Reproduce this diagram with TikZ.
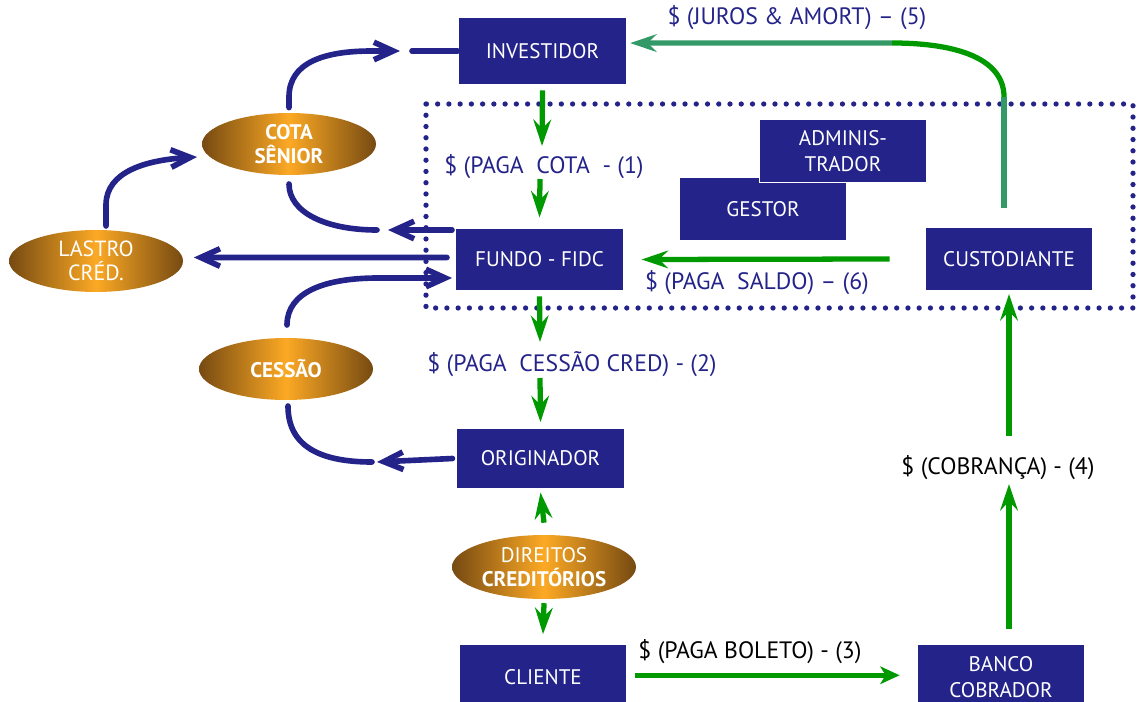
\documentclass[tikz,border=0pt]{standalone}
\usepackage{fontspec}
\setmainfont{PT Sans}
\usetikzlibrary{arrows.meta,shapes.geometric}

\definecolor{navy}{HTML}{232389}
\definecolor{fgreen}{HTML}{009900}
\definecolor{sgreen}{HTML}{339966}
\definecolor{goldedge}{HTML}{764A12}
\definecolor{goldmid}{HTML}{FCA924}

\tikzset{
  box/.style={fill=navy, draw=white, line width=0.6pt, text=white,
    font=\fontsize{12}{14.5}\selectfont, align=center,
    minimum width=3.36cm, minimum height=1.26cm, inner sep=0pt},
  oval/.style={ellipse, left color=goldedge, right color=goldedge, middle color=goldmid,
    text=white, font=\fontsize{12.5}{14}\selectfont, align=center,
    minimum width=3.48cm, minimum height=1.24cm, inner sep=0pt},
  ovalbold/.style={font=\bfseries\fontsize{12}{14}\selectfont},
  lbl/.style={font=\fontsize{13.5}{15}\selectfont, text=navy, inner sep=1pt},
  bline/.style={draw=navy, line width=3.2pt, line cap=round},
  barb/.style={bline, -{Straight Barb[length=11pt,width=10pt]}},
  garr/.style={draw=fgreen, line width=3pt, -{Stealth[length=15pt,width=10pt,inset=5pt]}},
  sarr/.style={draw=sgreen, line width=3pt, -{Stealth[length=15pt,width=10pt,inset=5pt]}},
  dotframe/.style={draw=navy, line width=3pt, line cap=round, dash pattern=on 0pt off 6.4pt},
}

\begin{document}
\begin{tikzpicture}[x=0.02cm, y=-0.02cm]
\path[use as bounding box] (0,0) rectangle (1138,702);
\clip (0,0) rectangle (1138,702);

% boxes
\node[box, minimum width=3.38cm, minimum height=1.36cm] (inv) at (542.5,51) {INVESTIDOR};
\node[box] (fundo) at (539.5,259.5) {FUNDO - FIDC};
\node[box] (gestor) at (763,209) {GESTOR};
\node[box] (admin) at (843,151) {ADMINIS-\\TRADOR};
\node[box] (cust) at (1009,259) {CUSTODIANTE};
\node[box, minimum height=1.22cm] (orig) at (540.5,458.5) {ORIGINADOR};
\node[box, minimum height=1.3cm] (cliente) at (543,677) {CLIENTE};
\node[box, minimum height=1.3cm] (banco) at (1001,677) {BANCO\\COBRADOR};

% golden ovals
\node[oval, ovalbold] (cota) at (289,144) {COTA\\SÊNIOR};
\node[oval] (lastro) at (96,261) {LASTRO\\CRÉD.};
\node[oval, ovalbold] (cessao) at (286,369) {CESSÃO};
\node[oval, minimum width=3.68cm, minimum height=1.28cm, font=\fontsize{12}{14}\selectfont] (dir) at (544,567) {DIREITOS\\\textbf{CREDITÓRIOS}};

% labels
\node[lbl] (l1) at (544,167) {\$ (PAGA\ \ COTA\ \ - (1)};
\node[lbl] (l2) at (572,364) {\$ (PAGA\ \ CESSÃO CRED) - (2)};
\node[lbl, text=black] (l3) at (750,652) {\$ (PAGA BOLETO) - (3)};
\node[lbl, text=black] (l4) at (998,468) {\$ (COBRANÇA) - (4)};
\node[lbl] (l5) at (797,18) {\$ (JUROS \& AMORT) – (5)};
\node[lbl] (l6) at (757,283) {\$ (PAGA\ \ SALDO) – (6)};

% way points of the navy connectors
\coordinate (cTip) at (400,51);
\coordinate (cBend) at (372,51);
\coordinate (cUp) at (289,97);
\coordinate (invDash) at (412,51);
\coordinate (fTip) at (388,230);
\coordinate (fStart) at (452,230);
\coordinate (fEnd) at (377,230);
\coordinate (cDown) at (289,184);
\coordinate (lUp) at (106,226);
\coordinate (lBend) at (106,205);
\coordinate (lTip) at (197,157);
\coordinate (sUp) at (287,325);
\coordinate (sBend) at (378,278);
\coordinate (sTip) at (452,278);
\coordinate (oTip) at (377,462);
\coordinate (oEnd) at (372,462);
\coordinate (sDown) at (288,406);

% navy connectors
\draw[barb] (cota.north) ++(0,-5) -- (cUp) .. controls (289,62) and (325,51) .. (cBend) -- (cTip);
\draw[bline] (invDash) -- (inv.west);
\draw[barb] (fStart) -- (fTip);
\draw[bline] (fEnd) .. controls (325,230) and (289,212) .. (cDown);
\draw[barb] (fundo.west) ++(-8,-2) -- ([xshift=6pt,yshift=2pt]lastro.east);
\draw[barb] (lUp) -- (lBend) .. controls (106,172) and (145,160) .. (lTip);
\draw[barb] (sUp) .. controls (287,292) and (325,278) .. (sBend) -- (sTip);
\draw[barb] ([xshift=-2pt]orig.west) -- (oTip);
\draw[bline] (oEnd) .. controls (318,462) and (288,445) .. (sDown);

% frame around the fund's service providers
\draw[dotframe] (426,104) rectangle (1133,308);

% green way points
\coordinate (g1a) at (542,146);
\coordinate (g1b) at (540,179);
\coordinate (g2a) at (540,342);
\coordinate (g2b) at (540,378);
\coordinate (g5a) at (1009,484);
\coordinate (g5b) at (1009,436);
\coordinate (g6a) at (1004,208);
\coordinate (g6b) at (1004,97);
\coordinate (g6c) at (892,43);

% green connectors
\draw[garr] ([yshift=-2.8pt]inv.south) -- (g1a);
\draw[garr] (g1b) -- ([yshift=5.7pt]fundo.north);
\draw[garr] ([yshift=-2.8pt]fundo.south) -- (g2a);
\draw[garr] (g2b) -- ([yshift=3pt]orig.north);
\draw[garr] ([yshift=6.8pt]dir.north) -- ([yshift=-1.7pt]orig.south);
\draw[garr] ([yshift=-2.2pt]dir.south) -- ([yshift=5.6pt]cliente.north);
\draw[garr, -{Stealth[length=11pt,width=10pt,inset=3pt]}] ([xshift=4.5pt,yshift=1pt]cliente.east) -- ([xshift=-9.6pt,yshift=1pt]banco.west);
\draw[garr] ([yshift=8.5pt]banco.north -| cust.south) -- (g5a);
\draw[garr] (g5b) -- ([yshift=-1.7pt]cust.south);
\draw[draw=sgreen, line width=3pt] (g6a) -- (g6b);
\draw[draw=fgreen, line width=3pt] (g6b) .. controls (1004,60) and (960,43) .. (g6c);
\draw[sarr] (g6c) -- ([xshift=1.5pt,yshift=4.5pt]inv.east);
\draw[garr] ([xshift=-19.8pt]cust.west) -- ([xshift=10pt]fundo.east);
\end{tikzpicture}
\end{document}
